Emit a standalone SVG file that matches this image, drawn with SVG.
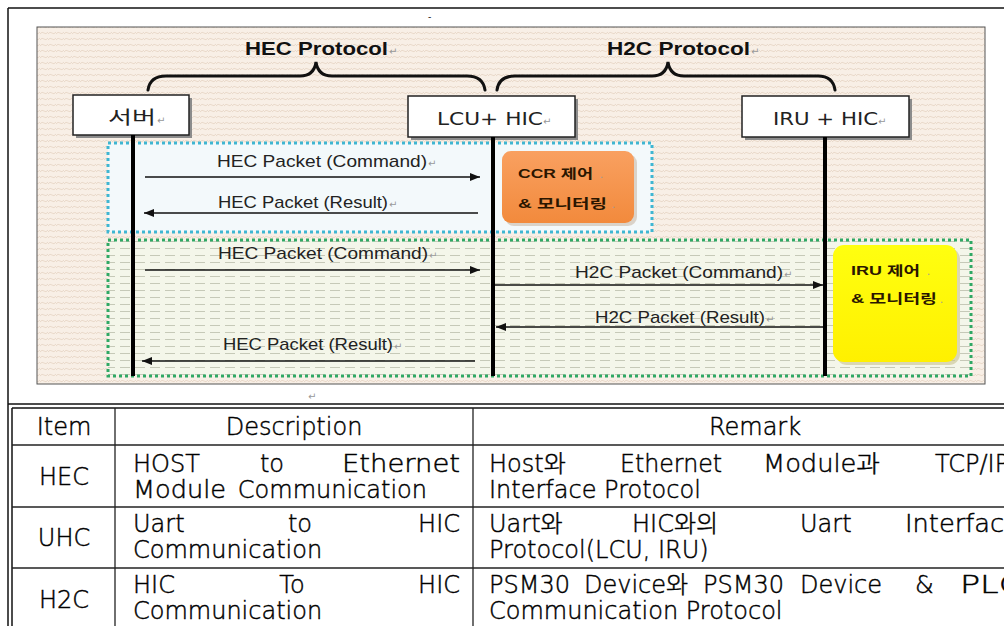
<svg xmlns="http://www.w3.org/2000/svg" width="1004" height="626" viewBox="0 0 1004 626">
<style>
.lbl{font-family:"Liberation Sans",Arial,sans-serif;font-size:17px;fill:#222}
.ttl{font-family:"Liberation Sans",Arial,sans-serif;font-size:18px;font-weight:bold;fill:#111}
.nm{font-family:"DejaVu Sans","Noto Sans CJK KR",sans-serif;font-size:18px;fill:#222}
.ret{font-family:"DejaVu Sans",sans-serif;font-size:10px;fill:#999}
.box{fill:#fff;stroke:#222;stroke-width:1.5}
.sh{fill:#8c8c8c}
.life{stroke:#000;stroke-width:4}
.msg{stroke:#111;stroke-width:1.4;fill:none}
.brace{fill:none;stroke:#111;stroke-width:3;stroke-linecap:round}
.act{font-family:"Liberation Sans","Noto Sans CJK KR",sans-serif;font-size:13px;font-weight:bold;fill:#2a1600}
.tbl{font-family:"DejaVu Sans","Noto Sans CJK KR",sans-serif;font-size:24px;font-weight:300;fill:#000;stroke:#000;stroke-width:0.45}
.grid{stroke:#222;stroke-width:1.3}
.frame{stroke:#111;stroke-width:1.5}
</style>
<defs>
<marker id="ah" viewBox="0 0 10 8" refX="10" refY="4" markerWidth="10" markerHeight="8" markerUnits="userSpaceOnUse" orient="auto">
<path d="M0,0 L10,4 L0,8 Z" fill="#111"/>
</marker>
<pattern id="beige" width="8" height="6" patternUnits="userSpaceOnUse">
<rect width="8" height="6" fill="#f8efe6"/>
<path d="M0,4 Q2,1 4,3 T8,2" fill="none" stroke="#e4d3c2" stroke-width="0.8"/>
</pattern>
<pattern id="dash" width="15" height="7" patternUnits="userSpaceOnUse">
<rect width="15" height="7" fill="#f4f6ea"/>
<line x1="0" y1="3.5" x2="10" y2="3.5" stroke="#c6c9b8" stroke-width="1"/>
</pattern>
<linearGradient id="org" x1="0" y1="0" x2="0" y2="1">
<stop offset="0" stop-color="#f9a060"/><stop offset="1" stop-color="#f28a3c"/>
</linearGradient>
<linearGradient id="yel" x1="0" y1="0" x2="0" y2="1">
<stop offset="0" stop-color="#ffff10"/><stop offset="1" stop-color="#fff000"/>
</linearGradient>
</defs>

<!-- outer frame -->
<g id="frame">
<line class="frame" x1="8" y1="8" x2="1004" y2="8"/>
<line class="frame" x1="8" y1="8" x2="8" y2="626"/>
<text x="428" y="20" font-family="Liberation Sans,sans-serif" font-size="10" fill="#333">-</text>
</g>

<!-- diagram background -->
<g id="background">
<rect x="37" y="27" width="948" height="357" fill="url(#beige)" stroke="#555" stroke-width="1"/>
<rect x="108" y="143" width="544" height="89" fill="#f3f9fb" stroke="#3fb6d2" stroke-width="3" stroke-dasharray="3 3"/>
<rect x="108" y="240" width="863" height="136" fill="url(#dash)" stroke="#2fa864" stroke-width="3" stroke-dasharray="3 3"/>
<text x="308" y="400" class="ret" fill="#bbb">↵</text>
</g>

<!-- protocol titles and braces -->
<g id="hec-protocol">
<text class="ttl" x="245" y="55" textLength="143" lengthAdjust="spacingAndGlyphs">HEC Protocol</text>
<text class="ret" x="389" y="55">↵</text>
<path class="brace" d="M148,90 Q150,76 166,76 L300,76 Q314,76 316,62 Q318,76 332,76 L467,76 Q483,76 485,90"/>
</g>
<g id="h2c-protocol">
<text class="ttl" x="607" y="55" textLength="143" lengthAdjust="spacingAndGlyphs">H2C Protocol</text>
<text class="ret" x="751" y="55">↵</text>
<path class="brace" d="M497,90 Q499,76 515,76 L652,76 Q666,76 668,62 Q670,76 684,76 L818,76 Q833,76 835,90"/>
</g>

<!-- participants -->
<g id="server">
<rect class="sh" x="76" y="98" width="116" height="40"/>
<rect class="box" x="73" y="95" width="116" height="40"/>
<text class="nm" x="108" y="124" font-size="16" textLength="48" lengthAdjust="spacingAndGlyphs">서버</text>
<text class="ret" x="157" y="124">↵</text>
</g>
<g id="lcu-hic">
<rect class="sh" x="411" y="99" width="167" height="41"/>
<rect class="box" x="408" y="96" width="167" height="41"/>
<text class="nm" x="437" y="125" textLength="106" lengthAdjust="spacingAndGlyphs">LCU+ HIC</text>
<text class="ret" x="543" y="125">↵</text>
</g>
<g id="iru-hic">
<rect class="sh" x="745" y="99" width="167" height="41"/>
<rect class="box" x="742" y="96" width="167" height="41"/>
<text class="nm" x="773" y="125" textLength="105" lengthAdjust="spacingAndGlyphs">IRU + HIC</text>
<text class="ret" x="878" y="125">↵</text>
</g>

<!-- activity boxes -->
<g id="ccr">
<rect x="505" y="154" width="132" height="72" rx="9" fill="#c9b9a8" opacity="0.6"/>
<rect x="502" y="151" width="132" height="72" rx="9" fill="url(#org)"/>
<text class="act" x="518" y="178" textLength="75" lengthAdjust="spacingAndGlyphs">CCR 제어</text>
<text class="ret" x="600" y="178" font-size="7">.</text>
<text class="act" x="518" y="208" textLength="89" lengthAdjust="spacingAndGlyphs">&amp; 모니터링</text>
<text class="ret" x="612" y="208" font-size="7">.</text>
</g>
<g id="iru">
<rect x="836" y="248" width="124" height="117" rx="11" fill="#c8c390" opacity="0.6"/>
<rect x="833" y="245" width="124" height="117" rx="11" fill="url(#yel)"/>
<text class="act" x="851" y="275" textLength="69" lengthAdjust="spacingAndGlyphs">IRU 제어</text>
<text class="ret" x="927" y="275" font-size="7">.</text>
<text class="act" x="851" y="303" textLength="86" lengthAdjust="spacingAndGlyphs">&amp; 모니터링</text>
<text class="ret" x="940" y="303" font-size="7">.</text>
</g>

<!-- connectors -->
<g id="connectors">
<line class="life" x1="133" y1="135" x2="133" y2="376"/>
<line class="life" x1="493" y1="137" x2="493" y2="376"/>
<line class="life" x1="825" y1="137" x2="825" y2="376"/>

<line class="msg" x1="145" y1="177" x2="480" y2="177" marker-end="url(#ah)"/>
<text class="lbl" x="217" y="167" textLength="210" lengthAdjust="spacingAndGlyphs">HEC Packet (Command)</text>
<text class="ret" x="428" y="167">↵</text>

<line class="msg" x1="478" y1="213" x2="144" y2="213" marker-end="url(#ah)"/>
<text class="lbl" x="218" y="208" textLength="170" lengthAdjust="spacingAndGlyphs">HEC Packet (Result)</text>
<text class="ret" x="389" y="208">↵</text>

<line class="msg" x1="145" y1="270" x2="480" y2="270" marker-end="url(#ah)"/>
<text class="lbl" x="218" y="259" textLength="210" lengthAdjust="spacingAndGlyphs">HEC Packet (Command)</text>
<text class="ret" x="429" y="259">↵</text>

<line class="msg" x1="495" y1="285" x2="823" y2="285" marker-end="url(#ah)"/>
<text class="lbl" x="575" y="278" textLength="208" lengthAdjust="spacingAndGlyphs">H2C Packet (Command)</text>
<text class="ret" x="784" y="278">↵</text>

<line class="msg" x1="823" y1="327" x2="496" y2="327" marker-end="url(#ah)"/>
<text class="lbl" x="595" y="323" textLength="170" lengthAdjust="spacingAndGlyphs">H2C Packet (Result)</text>
<text class="ret" x="766" y="323">↵</text>

<line class="msg" x1="475" y1="361" x2="142" y2="361" marker-end="url(#ah)"/>
<text class="lbl" x="223" y="350" textLength="170" lengthAdjust="spacingAndGlyphs">HEC Packet (Result)</text>
<text class="ret" x="394" y="350">↵</text>
</g>

<!-- table -->
<g id="table-grid">
<line class="frame" x1="8" y1="404" x2="1004" y2="404"/>
<line class="frame" x1="12" y1="408" x2="1004" y2="408"/>
<line class="frame" x1="12" y1="408" x2="12" y2="626"/>
<line class="grid" x1="115" y1="408" x2="115" y2="626"/>
<line class="grid" x1="473" y1="408" x2="473" y2="626"/>
<line class="grid" x1="12" y1="445" x2="1004" y2="445"/>
<line class="grid" x1="12" y1="507" x2="1004" y2="507"/>
<line class="grid" x1="12" y1="568" x2="1004" y2="568"/>
</g>
<g id="table-header">
<text class="tbl" x="64" y="435" text-anchor="middle">Item</text>
<text class="tbl" x="294" y="435" text-anchor="middle">Description</text>
<text class="tbl" x="755" y="435" text-anchor="middle">Remark</text>
</g>
<g id="row-hec">
<text class="tbl" x="64" y="485" text-anchor="middle">HEC</text>
<text class="tbl" x="133" y="472">HOST</text>
<text class="tbl" x="272" y="472" text-anchor="middle">to</text>
<text class="tbl" x="460" y="472" text-anchor="end" textLength="118" lengthAdjust="spacingAndGlyphs">Ethernet</text>
<text class="tbl" x="133" y="498" textLength="93" lengthAdjust="spacingAndGlyphs">Module</text>
<text class="tbl" x="427" y="498" text-anchor="end">Communication</text>
<text class="tbl" x="489" y="472">Host와</text>
<text class="tbl" x="620" y="472" textLength="102" lengthAdjust="spacingAndGlyphs">Ethernet</text>
<text class="tbl" x="763" y="472" textLength="117" lengthAdjust="spacingAndGlyphs">Module과</text>
<text class="tbl" x="935" y="472">TCP/IP</text>
<text class="tbl" x="489" y="498">Interface Protocol</text>
</g>
<g id="row-uhc">
<text class="tbl" x="64" y="546" text-anchor="middle">UHC</text>
<text class="tbl" x="133" y="532">Uart</text>
<text class="tbl" x="300" y="532" text-anchor="middle">to</text>
<text class="tbl" x="460" y="532" text-anchor="end">HIC</text>
<text class="tbl" x="133" y="558">Communication</text>
<text class="tbl" x="489" y="532">Uart와</text>
<text class="tbl" x="632" y="532">HIC와의</text>
<text class="tbl" x="800" y="532">Uart</text>
<text class="tbl" x="905" y="532" textLength="115" lengthAdjust="spacingAndGlyphs">Interface</text>
<text class="tbl" x="489" y="558">Protocol(LCU, IRU)</text>
</g>
<g id="row-h2c">
<text class="tbl" x="64" y="608" text-anchor="middle">H2C</text>
<text class="tbl" x="133" y="593">HIC</text>
<text class="tbl" x="292" y="593" text-anchor="middle">To</text>
<text class="tbl" x="460" y="593" text-anchor="end">HIC</text>
<text class="tbl" x="133" y="619">Communication</text>
<text class="tbl" x="489" y="593">PSM30</text>
<text class="tbl" x="584" y="593">Device와</text>
<text class="tbl" x="703" y="593">PSM30</text>
<text class="tbl" x="800" y="593">Device</text>
<text class="tbl" x="915" y="593">&amp;</text>
<text class="tbl" x="960" y="593" textLength="62" lengthAdjust="spacingAndGlyphs">PLC</text>
<text class="tbl" x="489" y="619">Communication Protocol</text>
</g>
</svg>
